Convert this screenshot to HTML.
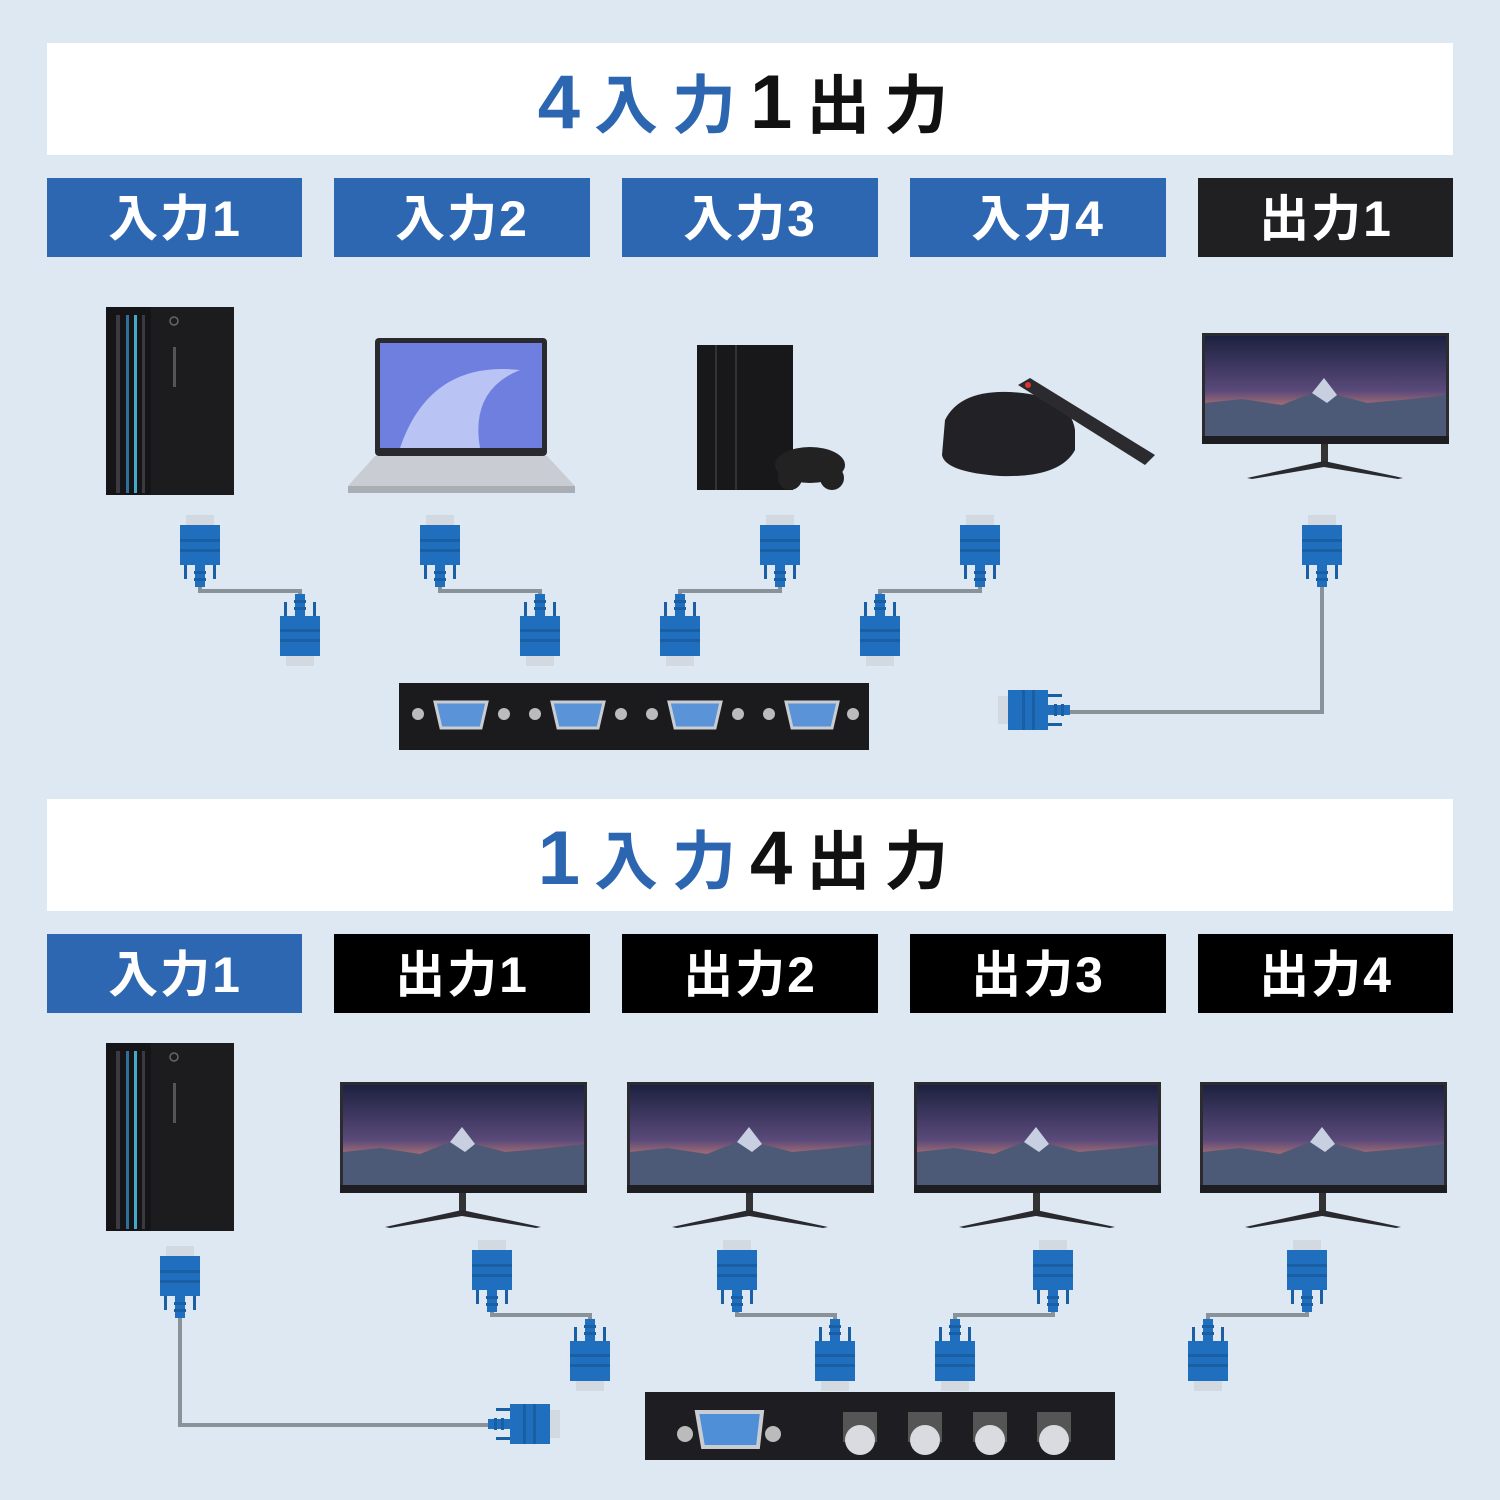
<!DOCTYPE html>
<html><head><meta charset="utf-8"><style>
html,body{margin:0;padding:0;background:#dee8f3;}
svg{display:block}
text{font-family:"Liberation Sans","Noto Sans CJK JP",sans-serif;font-weight:bold}
</style></head><body>
<svg width="1500" height="1500" viewBox="0 0 1500 1500" xmlns="http://www.w3.org/2000/svg">
<defs>
<linearGradient id="sky" x1="0" y1="0" x2="0" y2="1">
<stop offset="0" stop-color="#1c2140"/><stop offset="0.55" stop-color="#5a4a7a"/><stop offset="0.75" stop-color="#c07a70"/><stop offset="1" stop-color="#2a3550"/>
</linearGradient>
<g id="mon">
<rect x="0" y="0" width="247" height="110" fill="#2b2b30"/>
<rect x="3" y="3" width="241" height="100" fill="url(#sky)"/>
<path d="M3 70 L40 66 L80 72 L110 60 L122 45 L135 62 L165 70 L210 66 L244 62 L244 103 L3 103Z" fill="#4c5a78"/>
<path d="M110 60 L122 45 L135 62 L125 70Z" fill="#c8cfe0"/>
<rect x="0" y="103" width="247" height="8" fill="#1e1e22"/>
<rect x="119" y="111" width="7" height="22" fill="#333"/>
<path d="M122 128 L45 145 L50 146 L122 134 L196 146 L201 145Z" fill="#2a2a2e"/>
</g>
<g id="tower">
<rect x="0" y="0" width="128" height="188" fill="#1c1c1f"/>
<rect x="0" y="0" width="45" height="188" fill="#151518"/>
<rect x="10" y="8" width="4" height="178" fill="#3a3a40"/>
<rect x="20" y="8" width="3" height="178" fill="#2f6f9a"/>
<rect x="28" y="8" width="3" height="178" fill="#46a9c9"/>
<rect x="36" y="8" width="3" height="178" fill="#3a3a40"/>
<circle cx="68" cy="14" r="4" fill="none" stroke="#666" stroke-width="1.5"/>
<rect x="67" y="40" width="3" height="40" fill="#555"/>
</g>
<g id="pd">
<rect x="-14" y="-10" width="28" height="12" fill="#d3d9e0"/>
<rect x="-20" y="0" width="40" height="40" fill="#1f6fbe"/>
<rect x="-20" y="14" width="40" height="3" fill="#1a5ea3"/>
<rect x="-20" y="24" width="40" height="3" fill="#1a5ea3"/>
<rect x="-16" y="40" width="3" height="14" fill="#1a5ea3"/>
<rect x="13" y="40" width="3" height="14" fill="#1a5ea3"/>
<rect x="-5" y="40" width="10" height="22" fill="#1f6fbe"/>
<rect x="-6" y="46" width="12" height="3" fill="#1a5ea3"/>
<rect x="-6" y="53" width="12" height="3" fill="#1a5ea3"/>
</g>
</defs>

<!-- TOP SECTION -->
<rect x="47" y="43" width="1406" height="112" fill="#fff"/>
<text x="750" y="128" text-anchor="middle" font-size="76" letter-spacing="14"><tspan fill="#2d66b0">4</tspan><tspan fill="#2d66b0" font-size="64">入力</tspan><tspan fill="#111">1</tspan><tspan fill="#111" font-size="64">出力</tspan></text>
<g font-size="50" fill="#fff" text-anchor="middle" letter-spacing="2">
<rect x="47" y="178" width="255" height="79" fill="#2e67b1"/><text x="175" y="236">入力1</text>
<rect x="334" y="178" width="256" height="79" fill="#2e67b1"/><text x="462" y="236">入力2</text>
<rect x="622" y="178" width="256" height="79" fill="#2e67b1"/><text x="750" y="236">入力3</text>
<rect x="910" y="178" width="256" height="79" fill="#2e67b1"/><text x="1038" y="236">入力4</text>
<rect x="1198" y="178" width="255" height="79" fill="#202022"/><text x="1326" y="236">出力1</text>
</g>

<use href="#tower" x="106" y="307"/>
<!-- laptop -->
<rect x="375" y="338" width="172" height="118" rx="4" fill="#2a2a2e"/>
<rect x="380" y="343" width="162" height="105" fill="#6f7fe0"/>
<path d="M400 448 Q430 360 520 370 Q470 390 480 448Z" fill="#b9c4f5"/>
<path d="M348 486 L375 456 L547 456 L575 486Z" fill="#c9ccd2"/>
<rect x="348" y="486" width="227" height="7" fill="#a9adb4"/>
<!-- ps4 -->
<rect x="697" y="345" width="96" height="145" fill="#18181b"/>
<rect x="715" y="345" width="2" height="145" fill="#333"/>
<rect x="735" y="345" width="2" height="145" fill="#333"/>
<ellipse cx="810" cy="465" rx="35" ry="18" fill="#222"/>
<ellipse cx="790" cy="478" rx="12" ry="12" fill="#222"/><ellipse cx="832" cy="478" rx="12" ry="12" fill="#222"/>
<!-- tv box -->
<path d="M945 420 Q960 390 1010 392 Q1070 395 1075 430 L1075 450 Q1060 478 1000 476 Q945 472 942 455Z" fill="#222226"/>
<path d="M1018 385 L1030 378 L1155 455 L1145 465Z" fill="#2b2b2f"/>
<circle cx="1028" cy="385" r="3" fill="#d33"/>

<use href="#mon" x="1202" y="333"/>

<!-- top cables -->
<g fill="none" stroke="#8a9299" stroke-width="4">
<polyline points="200,585 200,591 300,591 300,598"/>
<polyline points="440,585 440,591 540,591 540,598"/>
<polyline points="780,585 780,591 680,591 680,598"/>
<polyline points="980,585 980,591 880,591 880,598"/>
<polyline points="1322,585 1322,712 1060,712"/>
</g>
<use href="#pd" x="200" y="525"/><use href="#pd" x="440" y="525"/><use href="#pd" x="780" y="525"/><use href="#pd" x="980" y="525"/><use href="#pd" x="1322" y="525"/>
<use href="#pd" transform="translate(300,656) scale(1,-1)"/>
<use href="#pd" transform="translate(540,656) scale(1,-1)"/>
<use href="#pd" transform="translate(680,656) scale(1,-1)"/>
<use href="#pd" transform="translate(880,656) scale(1,-1)"/>
<use href="#pd" transform="translate(1008,710) rotate(-90)"/>

<!-- top switch -->
<rect x="399" y="683" width="470" height="67" fill="#1b1b1e"/>
<g fill="#5b93d8" stroke="#c9ccd0" stroke-width="3">
<path d="M435 702 L487 702 L481 728 L441 728Z"/>
<path d="M552 702 L604 702 L598 728 L558 728Z"/>
<path d="M669 702 L721 702 L715 728 L675 728Z"/>
<path d="M786 702 L838 702 L832 728 L792 728Z"/>
</g>
<g fill="#bbb"><circle cx="418" cy="714" r="6"/><circle cx="504" cy="714" r="6"/><circle cx="535" cy="714" r="6"/><circle cx="621" cy="714" r="6"/><circle cx="652" cy="714" r="6"/><circle cx="738" cy="714" r="6"/><circle cx="769" cy="714" r="6"/><circle cx="853" cy="714" r="6"/></g>

<!-- BOTTOM SECTION -->
<rect x="47" y="799" width="1406" height="112" fill="#fff"/>
<text x="750" y="884" text-anchor="middle" font-size="76" letter-spacing="14"><tspan fill="#2d66b0">1</tspan><tspan fill="#2d66b0" font-size="64">入力</tspan><tspan fill="#111">4</tspan><tspan fill="#111" font-size="64">出力</tspan></text>
<g font-size="50" fill="#fff" text-anchor="middle" letter-spacing="2">
<rect x="47" y="934" width="255" height="79" fill="#2e67b1"/><text x="175" y="992">入力1</text>
<rect x="334" y="934" width="256" height="79" fill="#000"/><text x="462" y="992">出力1</text>
<rect x="622" y="934" width="256" height="79" fill="#000"/><text x="750" y="992">出力2</text>
<rect x="910" y="934" width="256" height="79" fill="#000"/><text x="1038" y="992">出力3</text>
<rect x="1198" y="934" width="255" height="79" fill="#000"/><text x="1326" y="992">出力4</text>
</g>

<use href="#tower" x="106" y="1043"/>
<use href="#mon" x="340" y="1082"/>
<use href="#mon" x="627" y="1082"/>
<use href="#mon" x="914" y="1082"/>
<use href="#mon" x="1200" y="1082"/>

<g fill="none" stroke="#8a9299" stroke-width="4">
<polyline points="180,1310 180,1425 492,1425"/>
<polyline points="492,1300 492,1315 590,1315 590,1322"/>
<polyline points="737,1300 737,1315 835,1315 835,1322"/>
<polyline points="1053,1300 1053,1315 955,1315 955,1322"/>
<polyline points="1307,1300 1307,1315 1208,1315 1208,1322"/>
</g>
<use href="#pd" x="180" y="1256"/>
<use href="#pd" x="492" y="1250"/><use href="#pd" x="737" y="1250"/><use href="#pd" x="1053" y="1250"/><use href="#pd" x="1307" y="1250"/>
<use href="#pd" transform="translate(590,1381) scale(1,-1)"/>
<use href="#pd" transform="translate(835,1381) scale(1,-1)"/>
<use href="#pd" transform="translate(955,1381) scale(1,-1)"/>
<use href="#pd" transform="translate(1208,1381) scale(1,-1)"/>
<use href="#pd" transform="translate(550,1424) rotate(90)"/>

<!-- bottom switch -->
<rect x="645" y="1392" width="470" height="68" fill="#1d1d22"/>
<path d="M697 1412 L762 1412 L758 1447 L703 1447Z" fill="#4f8fd8" stroke="#c9ccd0" stroke-width="4"/>
<circle cx="685" cy="1434" r="8" fill="#bbb"/><circle cx="773" cy="1434" r="8" fill="#bbb"/>
<g fill="#555"><rect x="843" y="1412" width="34" height="30"/><rect x="908" y="1412" width="34" height="30"/><rect x="973" y="1412" width="34" height="30"/><rect x="1037" y="1412" width="34" height="30"/></g>
<g fill="#d9dbe0"><circle cx="860" cy="1440" r="15"/><circle cx="925" cy="1440" r="15"/><circle cx="990" cy="1440" r="15"/><circle cx="1054" cy="1440" r="15"/></g>
</svg>
</body></html>
